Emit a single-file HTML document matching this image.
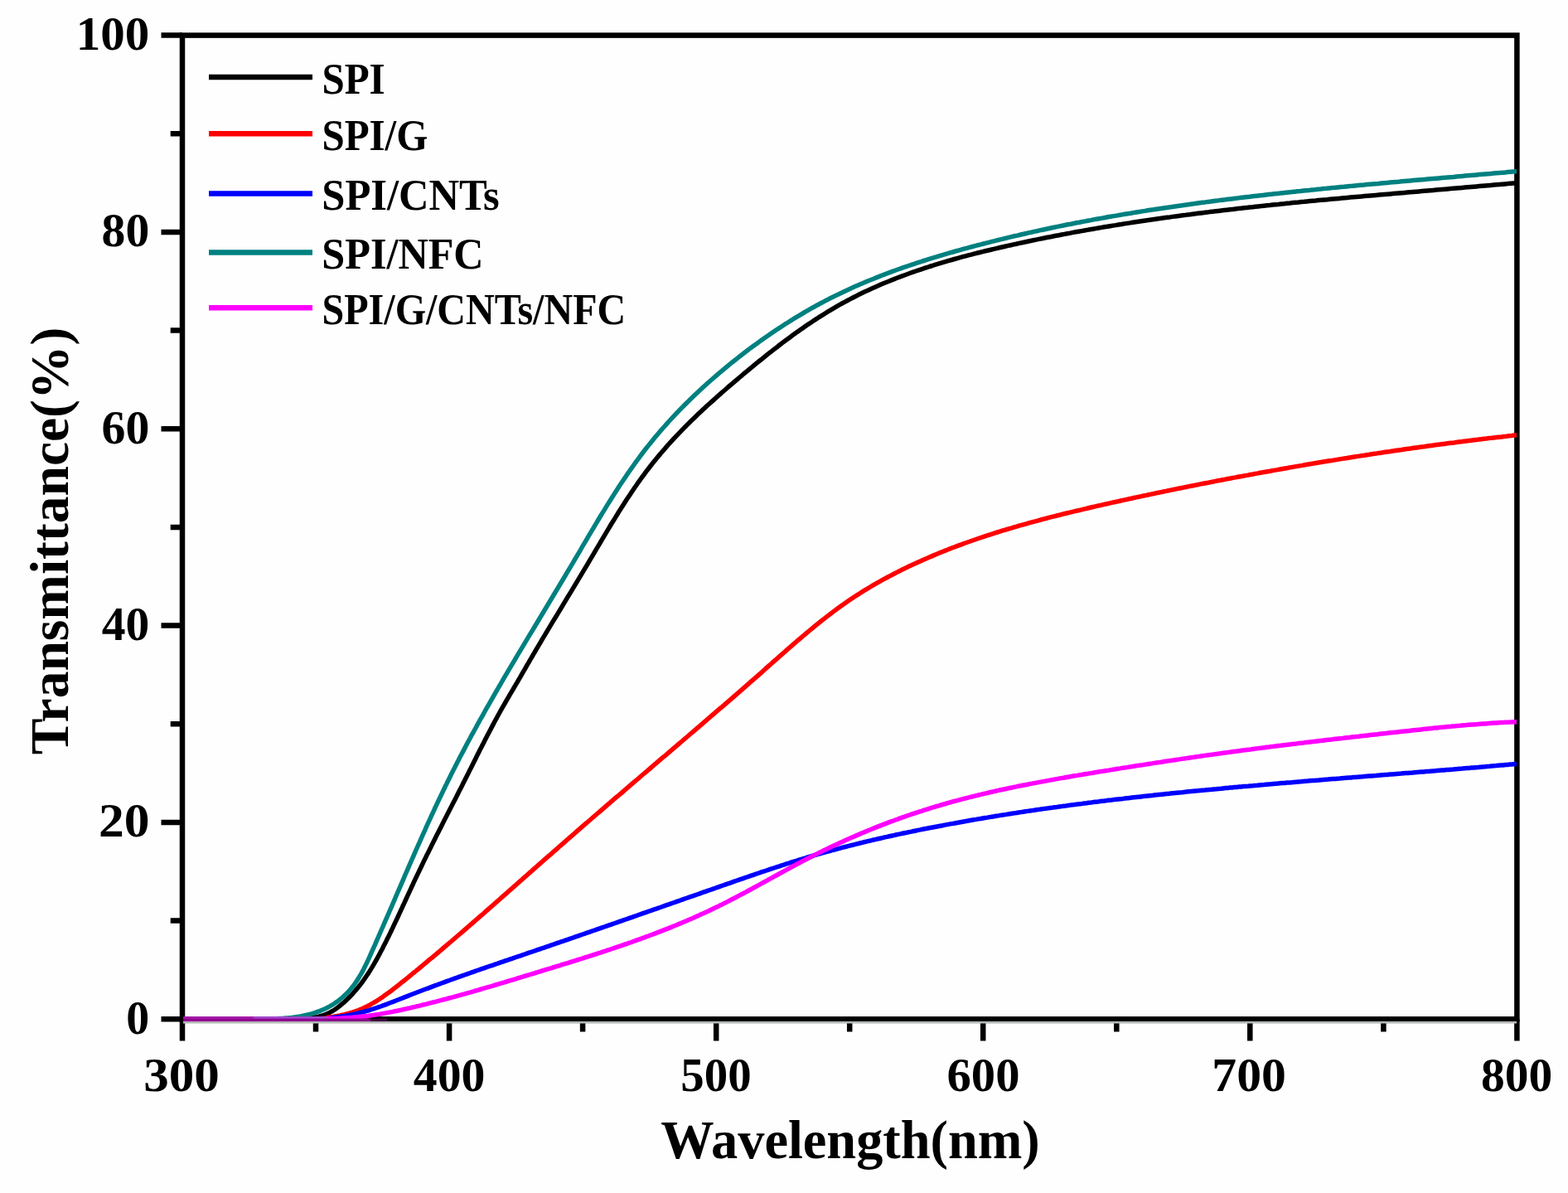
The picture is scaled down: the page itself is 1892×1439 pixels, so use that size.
<!DOCTYPE html><html><head><meta charset="utf-8"><title>Transmittance</title>
<style>html,body{margin:0;padding:0;background:#fefefe;overflow:hidden;}svg{display:block;}text{font-family:'Liberation Serif','Times New Roman',serif;font-weight:bold;fill:#000;}</style></head><body>
<svg width="1892" height="1439" viewBox="0 0 1892 1439">
<rect width="1892" height="1439" fill="#fefefe"/>
<path d="M194.5 1229.3 H220.0 M205.7 1110.6 H220.0 M194.5 992.0 H220.0 M205.7 873.3 H220.0 M194.5 754.6 H220.0 M205.7 635.9 H220.0 M194.5 517.3 H220.0 M205.7 398.6 H220.0 M194.5 279.9 H220.0 M205.7 161.3 H220.0 M194.5 42.6 H220.0 M220.0 1229.3 V1255.5 M381.0 1229.3 V1244.5 M542.1 1229.3 V1255.5 M703.1 1229.3 V1244.5 M864.2 1229.3 V1255.5 M1025.2 1229.3 V1244.5 M1186.2 1229.3 V1255.5 M1347.3 1229.3 V1244.5 M1508.3 1229.3 V1255.5 M1669.4 1229.3 V1244.5 M1830.4 1229.3 V1255.5" stroke="#000" stroke-width="6.5" fill="none"/>
<rect x="220.0" y="42.6" width="1610.4" height="1186.7" fill="none" stroke="#000" stroke-width="6.5"/>
<rect x="221" y="1231.9" width="1609" height="2.6" fill="#b4b8b4"/>
<path d="M222.0 1229.0L225.5 1229.0 229.0 1229.0 232.5 1229.0 236.0 1229.0 239.5 1229.0 243.0 1229.0 246.5 1229.0 249.9 1229.0 253.4 1229.0 256.8 1229.0 260.3 1228.9 263.7 1228.9 267.2 1228.9 270.6 1228.9 274.0 1228.9 277.5 1228.9 280.9 1228.9 284.4 1228.9 287.8 1228.9 291.3 1228.9 294.8 1228.9 298.2 1228.9 301.7 1228.9 305.2 1228.9 308.7 1228.9 312.2 1228.9 315.8 1228.9 319.3 1228.9 322.9 1228.9 326.4 1228.9 330.0 1228.8 333.6 1228.8 337.1 1228.8 340.7 1228.8 344.2 1228.8 347.8 1228.8 351.3 1228.8 354.8 1228.8 358.3 1228.8 361.8 1228.8 365.2 1228.8 368.7 1228.5 372.1 1228.2 375.4 1227.8 378.7 1227.3 382.0 1226.7 385.3 1226.0 388.4 1225.1 391.6 1224.1 394.7 1222.8 397.7 1221.4 400.7 1219.8 403.6 1218.0 406.5 1216.0 409.3 1213.9 412.0 1211.6 414.7 1209.4 417.3 1207.0 419.8 1204.6 422.3 1202.1 424.7 1199.6 427.0 1197.0 429.3 1194.4 431.5 1191.8 433.7 1189.1 435.8 1186.3 437.9 1183.5 439.9 1180.7 441.8 1177.8 443.8 1174.9 445.7 1172.0 447.5 1169.1 449.3 1166.1 451.1 1163.1 452.8 1160.1 454.6 1157.0 456.2 1154.0 457.9 1150.9 459.5 1147.8 461.2 1144.7 462.7 1141.6 464.3 1138.5 465.9 1135.4 467.4 1132.3 469.0 1129.2 470.5 1126.1 472.0 1123.0 473.5 1119.9 475.0 1116.7 476.4 1113.6 477.9 1110.5 479.4 1107.4 480.8 1104.3 482.3 1101.1 483.7 1098.0 485.2 1094.9 486.6 1091.7 488.1 1088.6 489.5 1085.5 490.9 1082.4 492.4 1079.2 493.8 1076.1 495.3 1072.9 496.7 1069.8 498.2 1066.7 499.6 1063.5 501.1 1060.4 502.6 1057.3 504.1 1054.1 505.6 1051.0 507.1 1047.8 508.6 1044.7 510.1 1041.6 511.6 1038.4 513.2 1035.3 514.7 1032.1 516.3 1029.0 517.8 1025.9 519.4 1022.7 520.9 1019.6 522.5 1016.5 524.1 1013.3 525.6 1010.2 527.2 1007.1 528.8 1003.9 530.4 1000.8 532.0 997.7 533.6 994.5 535.1 991.4 536.7 988.3 538.3 985.2 539.9 982.1 541.5 978.9 543.1 975.8 544.7 972.7 546.3 969.6 547.9 966.5 549.5 963.4 551.1 960.3 552.6 957.2 554.2 954.1 555.8 951.0 557.4 947.9 558.9 944.8 560.5 941.7 562.1 938.6 563.6 935.5 565.2 932.4 566.7 929.3 568.3 926.3 569.8 923.2 571.3 920.1 572.9 917.1 574.4 914.0 575.9 910.9 577.5 907.9 579.0 904.8 580.6 901.8 582.1 898.7 583.7 895.7 585.2 892.6 586.8 889.6 588.4 886.5 590.0 883.5 591.6 880.4 593.2 877.4 594.8 874.4 596.4 871.3 598.0 868.3 599.7 865.3 601.3 862.3 603.0 859.2 604.7 856.2 606.4 853.2 608.2 850.2 609.9 847.2 611.6 844.1 613.4 841.1 615.1 838.1 616.9 835.1 618.7 832.1 620.4 829.1 622.2 826.1 624.0 823.1 625.7 820.1 627.5 817.1 629.2 814.1 630.9 811.1 632.7 808.1 634.4 805.1 636.1 802.1 637.9 799.1 639.6 796.1 641.4 793.1 643.1 790.1 644.9 787.1 646.6 784.1 648.4 781.1 650.2 778.1 652.0 775.1 653.7 772.2 655.5 769.2 657.3 766.2 659.1 763.2 660.9 760.2 662.7 757.2 664.5 754.2 666.3 751.2 668.1 748.2 669.9 745.3 671.7 742.3 673.5 739.3 675.3 736.3 677.1 733.3 678.9 730.3 680.7 727.3 682.5 724.3 684.3 721.3 686.2 718.3 688.0 715.4 689.8 712.4 691.6 709.4 693.4 706.4 695.2 703.4 697.0 700.4 698.8 697.4 700.6 694.4 702.4 691.4 704.2 688.4 706.0 685.4 707.8 682.4 709.6 679.4 711.3 676.4 713.1 673.4 714.9 670.4 716.7 667.4 718.4 664.4 720.2 661.4 722.0 658.4 723.8 655.4 725.5 652.4 727.3 649.4 729.1 646.4 730.9 643.4 732.7 640.4 734.5 637.4 736.2 634.5 738.0 631.5 739.9 628.5 741.7 625.6 743.5 622.6 745.3 619.7 747.1 616.7 749.0 613.8 750.8 610.9 752.7 608.0 754.6 605.0 756.5 602.1 758.4 599.3 760.3 596.4 762.2 593.5 764.1 590.7 766.1 587.8 768.1 585.0 770.0 582.1 772.0 579.3 774.0 576.5 776.1 573.8 778.1 571.0 780.2 568.2 782.3 565.5 784.4 562.8 786.5 560.0 788.7 557.3 790.8 554.7 793.0 552.0 795.2 549.4 797.4 546.7 799.7 544.1 802.0 541.5 804.2 538.9 806.5 536.3 808.9 533.7 811.2 531.2 813.5 528.7 815.9 526.1 818.3 523.6 820.7 521.1 823.1 518.6 825.5 516.1 828.0 513.7 830.4 511.2 832.9 508.8 835.4 506.3 837.9 503.9 840.4 501.5 842.9 499.1 845.4 496.7 848.0 494.3 850.5 492.0 853.1 489.6 855.7 487.2 858.3 484.9 860.9 482.6 863.5 480.2 866.1 477.9 868.7 475.6 871.3 473.3 874.0 471.0 876.6 468.7 879.2 466.4 881.9 464.1 884.6 461.8 887.2 459.6 889.9 457.3 892.6 455.0 895.3 452.8 897.9 450.5 900.6 448.3 903.3 446.1 906.0 443.8 908.7 441.6 911.4 439.4 914.1 437.2 916.8 435.0 919.6 432.8 922.3 430.6 925.0 428.4 927.8 426.2 930.5 424.1 933.3 421.9 936.0 419.8 938.8 417.7 941.5 415.5 944.3 413.4 947.1 411.3 949.9 409.3 952.7 407.2 955.5 405.1 958.3 403.1 961.1 401.1 964.0 399.0 966.8 397.0 969.7 395.1 972.5 393.1 975.4 391.1 978.3 389.2 981.1 387.3 984.0 385.4 986.9 383.5 989.8 381.6 992.8 379.8 995.7 378.0 998.6 376.2 1001.6 374.4 1004.6 372.6 1007.5 370.9 1010.5 369.1 1013.5 367.4 1016.5 365.8 1019.6 364.1 1022.6 362.5 1025.7 360.9 1028.7 359.3 1031.8 357.7 1034.9 356.1 1038.0 354.6 1041.1 353.1 1044.2 351.6 1047.3 350.2 1050.4 348.7 1053.6 347.3 1056.7 345.9 1059.9 344.5 1063.1 343.1 1066.2 341.8 1069.4 340.5 1072.6 339.2 1075.8 337.9 1079.1 336.6 1082.3 335.3 1085.5 334.1 1088.8 332.9 1092.0 331.7 1095.3 330.5 1098.5 329.3 1101.8 328.1 1105.1 327.0 1108.4 325.9 1111.7 324.8 1115.0 323.7 1118.3 322.6 1121.6 321.5 1124.9 320.5 1128.2 319.4 1131.6 318.4 1134.9 317.4 1138.2 316.4 1141.6 315.4 1144.9 314.4 1148.3 313.5 1151.7 312.5 1155.0 311.6 1158.4 310.6 1161.8 309.7 1165.1 308.8 1168.5 307.9 1171.9 307.1 1175.3 306.2 1178.7 305.3 1182.1 304.5 1185.5 303.6 1188.9 302.8 1192.3 302.0 1195.7 301.2 1199.1 300.4 1202.5 299.6 1205.9 298.8 1209.3 298.0 1212.7 297.2 1216.1 296.4 1219.6 295.7 1223.0 294.9 1226.4 294.2 1229.8 293.4 1233.2 292.7 1236.6 292.0 1240.1 291.2 1243.5 290.5 1246.9 289.8 1250.3 289.1 1253.7 288.4 1257.2 287.7 1260.6 287.0 1264.0 286.3 1267.4 285.7 1270.8 285.0 1274.3 284.3 1277.7 283.7 1281.1 283.0 1284.5 282.4 1288.0 281.7 1291.4 281.1 1294.8 280.4 1298.2 279.8 1301.7 279.2 1305.1 278.6 1308.5 278.0 1312.0 277.4 1315.4 276.8 1318.8 276.2 1322.2 275.6 1325.7 275.0 1329.1 274.4 1332.5 273.8 1336.0 273.3 1339.4 272.7 1342.8 272.1 1346.3 271.6 1349.7 271.0 1353.1 270.5 1356.6 269.9 1360.0 269.4 1363.4 268.9 1366.9 268.3 1370.3 267.8 1373.7 267.3 1377.2 266.8 1380.6 266.3 1384.1 265.8 1387.5 265.3 1390.9 264.8 1394.4 264.3 1397.8 263.8 1401.3 263.3 1404.7 262.8 1408.1 262.3 1411.6 261.9 1415.0 261.4 1418.5 260.9 1421.9 260.5 1425.3 260.0 1428.8 259.6 1432.2 259.1 1435.7 258.7 1439.1 258.2 1442.6 257.8 1446.0 257.3 1449.5 256.9 1452.9 256.5 1456.4 256.1 1459.8 255.6 1463.2 255.2 1466.7 254.8 1470.1 254.4 1473.6 254.0 1477.0 253.6 1480.5 253.2 1483.9 252.8 1487.4 252.4 1490.8 252.0 1494.3 251.6 1497.7 251.2 1501.2 250.8 1504.6 250.4 1508.1 250.0 1511.5 249.7 1515.0 249.3 1518.4 248.9 1521.9 248.6 1525.3 248.2 1528.8 247.8 1532.2 247.5 1535.7 247.1 1539.2 246.7 1542.6 246.4 1546.1 246.0 1549.5 245.7 1553.0 245.3 1556.4 245.0 1559.9 244.6 1563.3 244.3 1566.8 244.0 1570.3 243.6 1573.7 243.3 1577.2 242.9 1580.6 242.6 1584.1 242.3 1587.5 242.0 1591.0 241.6 1594.5 241.3 1597.9 241.0 1601.4 240.7 1604.8 240.3 1608.3 240.0 1611.7 239.7 1615.2 239.4 1618.7 239.1 1622.1 238.7 1625.6 238.4 1629.0 238.1 1632.5 237.8 1636.0 237.5 1639.4 237.2 1642.9 236.9 1646.3 236.6 1649.8 236.3 1653.3 236.0 1656.7 235.7 1660.2 235.4 1663.7 235.1 1667.1 234.8 1670.6 234.5 1674.0 234.2 1677.5 233.9 1681.0 233.6 1684.4 233.3 1687.9 233.0 1691.4 232.7 1694.8 232.4 1698.3 232.1 1701.8 231.8 1705.2 231.5 1708.7 231.2 1712.1 230.9 1715.6 230.6 1719.1 230.3 1722.5 230.0 1726.0 229.7 1729.5 229.4 1732.9 229.1 1736.4 228.8 1739.9 228.5 1743.3 228.2 1746.8 227.9 1750.3 227.6 1753.7 227.3 1757.2 227.0 1760.7 226.7 1764.1 226.4 1767.6 226.1 1771.1 225.8 1774.5 225.5 1778.0 225.2 1781.5 224.9 1784.9 224.6 1788.4 224.3 1791.9 224.0 1795.3 223.7 1798.8 223.4 1802.3 223.1 1805.7 222.8 1809.2 222.5 1812.7 222.2 1816.1 221.9 1819.6 221.6 1823.1 221.2 1826.5 220.9 1830.0 220.6" stroke="#000000" stroke-width="5.5" fill="none" stroke-linejoin="round"/>
<path d="M222.0 1229.0L225.0 1229.0 227.9 1229.0 230.9 1229.0 233.8 1229.0 236.8 1229.0 239.8 1229.0 242.8 1229.0 245.8 1229.0 248.8 1229.0 251.8 1229.0 254.9 1229.0 257.9 1229.0 260.9 1229.0 264.0 1229.0 267.0 1228.9 270.1 1228.9 273.2 1228.9 276.2 1228.9 279.3 1228.9 282.4 1228.9 285.5 1228.9 288.6 1228.9 291.7 1228.9 294.8 1228.9 297.8 1228.9 300.9 1228.9 304.0 1228.9 307.1 1228.9 310.2 1228.9 313.3 1228.9 316.4 1228.9 319.5 1228.9 322.6 1228.9 325.7 1228.9 328.8 1228.9 331.9 1228.9 335.0 1228.9 338.1 1228.9 341.1 1228.9 344.2 1228.9 347.3 1228.9 350.4 1228.9 353.4 1228.8 356.5 1228.8 359.5 1228.8 362.6 1228.8 365.6 1228.8 368.6 1228.8 371.7 1228.8 374.7 1228.8 377.7 1228.8 380.7 1228.8 383.7 1228.8 386.7 1228.8 389.6 1228.8 392.6 1228.8 395.5 1227.2 398.5 1226.8 401.4 1226.4 404.3 1225.9 407.2 1225.4 410.1 1224.9 412.9 1224.3 415.8 1223.6 418.6 1222.9 421.4 1222.2 424.2 1221.3 427.0 1220.5 429.7 1219.5 432.5 1218.5 435.2 1217.4 437.9 1216.2 440.5 1215.0 443.2 1213.7 445.8 1212.3 448.4 1210.8 451.0 1209.4 453.6 1207.8 456.1 1206.2 458.7 1204.6 461.2 1202.9 463.7 1201.1 466.2 1199.3 468.7 1197.5 471.2 1195.7 473.7 1193.8 476.1 1191.9 478.6 1190.0 481.0 1188.1 483.4 1186.2 485.8 1184.2 488.3 1182.3 490.7 1180.3 493.1 1178.4 495.5 1176.4 497.9 1174.4 500.3 1172.5 502.7 1170.5 505.1 1168.6 507.4 1166.6 509.8 1164.6 512.2 1162.7 514.6 1160.7 516.9 1158.7 519.3 1156.7 521.7 1154.8 524.0 1152.8 526.4 1150.8 528.7 1148.8 531.1 1146.9 533.4 1144.9 535.7 1142.9 538.1 1140.9 540.4 1138.9 542.7 1137.0 545.0 1135.0 547.4 1133.0 549.7 1131.0 552.0 1129.0 554.3 1127.0 556.6 1125.1 558.9 1123.1 561.2 1121.1 563.5 1119.1 565.8 1117.1 568.1 1115.1 570.4 1113.1 572.7 1111.1 575.0 1109.1 577.3 1107.1 579.6 1105.1 581.9 1103.2 584.1 1101.2 586.4 1099.2 588.7 1097.2 591.0 1095.2 593.3 1093.2 595.5 1091.2 597.8 1089.2 600.1 1087.2 602.3 1085.2 604.6 1083.2 606.9 1081.2 609.2 1079.2 611.4 1077.2 613.7 1075.2 616.0 1073.2 618.2 1071.2 620.5 1069.2 622.7 1067.2 625.0 1065.2 627.3 1063.2 629.5 1061.2 631.8 1059.2 634.1 1057.2 636.3 1055.2 638.6 1053.2 640.8 1051.2 643.1 1049.2 645.4 1047.2 647.6 1045.2 649.9 1043.2 652.2 1041.2 654.4 1039.2 656.7 1037.2 659.0 1035.2 661.2 1033.2 663.5 1031.3 665.8 1029.3 668.0 1027.3 670.3 1025.3 672.6 1023.3 674.8 1021.3 677.1 1019.3 679.4 1017.3 681.7 1015.3 683.9 1013.3 686.2 1011.3 688.5 1009.3 690.8 1007.3 693.1 1005.4 695.4 1003.4 697.6 1001.4 699.9 999.4 702.2 997.4 704.5 995.4 706.8 993.4 709.1 991.5 711.4 989.5 713.7 987.5 716.0 985.5 718.3 983.5 720.6 981.5 722.9 979.6 725.2 977.6 727.5 975.6 729.8 973.6 732.1 971.6 734.4 969.6 736.7 967.7 739.0 965.7 741.3 963.7 743.6 961.7 745.9 959.8 748.3 957.8 750.6 955.8 752.9 953.8 755.2 951.8 757.5 949.9 759.8 947.9 762.1 945.9 764.4 943.9 766.8 941.9 769.1 940.0 771.4 938.0 773.7 936.0 776.0 934.0 778.3 932.1 780.7 930.1 783.0 928.1 785.3 926.1 787.6 924.1 789.9 922.2 792.3 920.2 794.6 918.2 796.9 916.2 799.2 914.2 801.5 912.3 803.9 910.3 806.2 908.3 808.5 906.3 810.8 904.4 813.1 902.4 815.5 900.4 817.8 898.4 820.1 896.4 822.4 894.5 824.7 892.5 827.0 890.5 829.4 888.5 831.7 886.5 834.0 884.5 836.3 882.6 838.6 880.6 840.9 878.6 843.3 876.6 845.6 874.6 847.9 872.6 850.2 870.6 852.5 868.7 854.8 866.7 857.1 864.7 859.4 862.7 861.8 860.7 864.1 858.7 866.4 856.7 868.7 854.7 871.0 852.8 873.3 850.8 875.6 848.8 877.9 846.8 880.2 844.8 882.5 842.8 884.8 840.8 887.1 838.8 889.4 836.8 891.7 834.8 894.0 832.8 896.3 830.8 898.6 828.8 900.9 826.8 903.2 824.8 905.4 822.8 907.7 820.8 910.0 818.8 912.3 816.8 914.6 814.8 916.9 812.8 919.2 810.8 921.4 808.8 923.7 806.7 926.0 804.7 928.3 802.7 930.5 800.7 932.8 798.7 935.1 796.7 937.3 794.7 939.6 792.7 941.9 790.7 944.2 788.7 946.4 786.7 948.7 784.7 951.0 782.7 953.3 780.7 955.6 778.7 957.9 776.7 960.1 774.7 962.4 772.7 964.7 770.8 967.0 768.8 969.3 766.8 971.7 764.9 974.0 762.9 976.3 761.0 978.6 759.1 981.0 757.1 983.3 755.2 985.6 753.3 988.0 751.4 990.4 749.5 992.7 747.7 995.1 745.8 997.5 743.9 999.9 742.1 1002.3 740.3 1004.7 738.4 1007.1 736.6 1009.6 734.8 1012.0 733.0 1014.4 731.3 1016.9 729.5 1019.4 727.8 1021.9 726.0 1024.4 724.3 1026.9 722.6 1029.4 720.9 1031.9 719.3 1034.5 717.6 1037.1 716.0 1039.6 714.3 1042.2 712.7 1044.8 711.1 1047.4 709.6 1050.0 708.0 1052.7 706.4 1055.3 704.9 1057.9 703.4 1060.6 701.9 1063.3 700.4 1065.9 698.9 1068.6 697.5 1071.3 696.0 1074.0 694.6 1076.7 693.2 1079.4 691.8 1082.2 690.4 1084.9 689.0 1087.6 687.6 1090.4 686.3 1093.1 684.9 1095.9 683.6 1098.7 682.3 1101.4 681.0 1104.2 679.7 1107.0 678.4 1109.8 677.2 1112.6 675.9 1115.4 674.7 1118.2 673.5 1121.0 672.3 1123.8 671.1 1126.6 669.9 1129.4 668.7 1132.2 667.5 1135.0 666.4 1137.8 665.3 1140.7 664.1 1143.5 663.0 1146.3 661.9 1149.1 660.8 1152.0 659.7 1154.8 658.7 1157.7 657.6 1160.5 656.6 1163.3 655.5 1166.2 654.5 1169.1 653.5 1171.9 652.5 1174.8 651.5 1177.6 650.5 1180.5 649.5 1183.4 648.5 1186.2 647.6 1189.1 646.6 1192.0 645.7 1194.8 644.8 1197.7 643.8 1200.6 642.9 1203.5 642.0 1206.4 641.1 1209.3 640.2 1212.2 639.3 1215.0 638.5 1217.9 637.6 1220.8 636.8 1223.7 635.9 1226.6 635.1 1229.6 634.2 1232.5 633.4 1235.4 632.6 1238.3 631.8 1241.2 630.9 1244.1 630.1 1247.0 629.3 1249.9 628.6 1252.9 627.8 1255.8 627.0 1258.7 626.2 1261.6 625.5 1264.6 624.7 1267.5 623.9 1270.4 623.2 1273.4 622.5 1276.3 621.7 1279.3 621.0 1282.2 620.2 1285.1 619.5 1288.1 618.8 1291.0 618.1 1294.0 617.4 1296.9 616.7 1299.9 616.0 1302.8 615.3 1305.8 614.6 1308.7 613.9 1311.7 613.2 1314.6 612.5 1317.6 611.8 1320.6 611.1 1323.5 610.4 1326.5 609.8 1329.4 609.1 1332.4 608.4 1335.4 607.8 1338.4 607.1 1341.3 606.4 1344.3 605.8 1347.3 605.1 1350.2 604.5 1353.2 603.8 1356.2 603.1 1359.2 602.5 1362.1 601.8 1365.1 601.2 1368.1 600.5 1371.1 599.9 1374.1 599.3 1377.0 598.6 1380.0 598.0 1383.0 597.4 1386.0 596.7 1389.0 596.1 1392.0 595.5 1394.9 594.8 1397.9 594.2 1400.9 593.6 1403.9 593.0 1406.9 592.4 1409.9 591.7 1412.9 591.1 1415.9 590.5 1418.9 589.9 1421.8 589.3 1424.8 588.7 1427.8 588.1 1430.8 587.5 1433.8 586.9 1436.8 586.3 1439.8 585.7 1442.8 585.1 1445.8 584.5 1448.8 583.9 1451.8 583.3 1454.8 582.7 1457.8 582.2 1460.8 581.6 1463.8 581.0 1466.8 580.4 1469.7 579.8 1472.7 579.3 1475.7 578.7 1478.7 578.1 1481.7 577.5 1484.7 577.0 1487.7 576.4 1490.7 575.9 1493.7 575.3 1496.7 574.7 1499.7 574.2 1502.7 573.6 1505.7 573.1 1508.7 572.5 1511.7 572.0 1514.7 571.4 1517.7 570.9 1520.6 570.3 1523.6 569.8 1526.6 569.2 1529.6 568.7 1532.6 568.2 1535.6 567.6 1538.6 567.1 1541.6 566.6 1544.6 566.0 1547.6 565.5 1550.6 565.0 1553.5 564.5 1556.5 563.9 1559.5 563.4 1562.5 562.9 1565.5 562.4 1568.5 561.9 1571.5 561.4 1574.5 560.8 1577.5 560.3 1580.5 559.8 1583.5 559.3 1586.4 558.8 1589.4 558.3 1592.4 557.8 1595.4 557.3 1598.4 556.8 1601.4 556.3 1604.4 555.8 1607.4 555.4 1610.4 554.9 1613.4 554.4 1616.4 553.9 1619.3 553.4 1622.3 552.9 1625.3 552.5 1628.3 552.0 1631.3 551.5 1634.3 551.0 1637.3 550.6 1640.3 550.1 1643.3 549.6 1646.3 549.2 1649.3 548.7 1652.3 548.3 1655.3 547.8 1658.3 547.3 1661.3 546.9 1664.3 546.4 1667.3 546.0 1670.2 545.5 1673.2 545.1 1676.2 544.7 1679.2 544.2 1682.2 543.8 1685.2 543.3 1688.2 542.9 1691.2 542.5 1694.2 542.0 1697.2 541.6 1700.2 541.2 1703.2 540.8 1706.2 540.3 1709.3 539.9 1712.3 539.5 1715.3 539.1 1718.3 538.7 1721.3 538.2 1724.3 537.8 1727.3 537.4 1730.3 537.0 1733.3 536.6 1736.3 536.2 1739.3 535.8 1742.3 535.4 1745.3 535.0 1748.4 534.6 1751.4 534.2 1754.4 533.9 1757.4 533.5 1760.4 533.1 1763.4 532.7 1766.4 532.3 1769.5 531.9 1772.5 531.6 1775.5 531.2 1778.5 530.8 1781.5 530.4 1784.6 530.1 1787.6 529.7 1790.6 529.3 1793.6 529.0 1796.7 528.6 1799.7 528.3 1802.7 527.9 1805.7 527.6 1808.8 527.2 1811.8 526.9 1814.8 526.5 1817.9 526.2 1820.9 525.8 1823.9 525.5 1827.0 525.1 1830.0 524.8" stroke="#ff0000" stroke-width="5.5" fill="none" stroke-linejoin="round"/>
<path d="M222.0 1229.0L224.8 1229.0 227.6 1229.0 230.4 1229.0 233.2 1229.0 236.1 1229.0 238.9 1229.0 241.7 1229.0 244.5 1229.0 247.3 1229.0 250.1 1229.0 252.9 1229.0 255.7 1229.0 258.5 1229.0 261.3 1229.0 264.0 1229.0 266.8 1228.9 269.6 1228.9 272.4 1228.9 275.2 1228.9 277.9 1228.9 280.7 1228.9 283.5 1228.9 286.2 1228.9 289.0 1228.9 291.8 1228.9 294.5 1228.9 297.3 1228.9 300.0 1228.9 302.8 1228.9 305.5 1228.9 308.3 1228.9 311.0 1228.9 313.7 1228.9 316.5 1228.9 319.2 1228.9 321.9 1228.9 324.7 1228.9 327.4 1228.9 330.1 1228.9 332.8 1228.9 335.6 1228.9 338.3 1228.9 341.0 1228.9 343.7 1228.9 346.4 1228.9 349.1 1228.9 351.8 1228.9 354.5 1228.9 357.2 1228.8 359.9 1228.8 362.6 1228.8 365.3 1228.8 368.0 1228.8 370.7 1228.8 373.4 1228.8 376.1 1228.8 378.8 1228.8 381.5 1228.8 384.2 1228.8 386.8 1228.8 389.5 1228.8 392.2 1228.8 394.9 1228.8 397.5 1228.8 400.2 1227.5 402.9 1227.2 405.6 1226.9 408.2 1226.6 410.9 1226.2 413.5 1225.8 416.2 1225.4 418.9 1224.9 421.5 1224.5 424.2 1223.9 426.8 1223.4 429.5 1222.8 432.1 1222.2 434.8 1221.5 437.4 1220.9 440.1 1220.1 442.7 1219.4 445.4 1218.6 448.0 1217.7 450.7 1216.9 453.3 1216.0 455.9 1215.1 458.6 1214.2 461.2 1213.2 463.8 1212.3 466.5 1211.3 469.1 1210.3 471.7 1209.3 474.4 1208.3 477.0 1207.3 479.6 1206.2 482.2 1205.2 484.9 1204.2 487.5 1203.1 490.1 1202.1 492.7 1201.1 495.4 1200.0 498.0 1199.0 500.6 1198.0 503.2 1197.0 505.8 1196.0 508.4 1195.0 511.0 1194.0 513.7 1193.0 516.3 1192.1 518.9 1191.1 521.5 1190.1 524.1 1189.1 526.7 1188.2 529.3 1187.2 531.9 1186.3 534.5 1185.3 537.1 1184.4 539.7 1183.4 542.3 1182.5 544.9 1181.5 547.5 1180.6 550.1 1179.7 552.7 1178.7 555.3 1177.8 557.9 1176.9 560.5 1176.0 563.1 1175.1 565.7 1174.2 568.3 1173.2 570.9 1172.3 573.5 1171.4 576.1 1170.5 578.7 1169.6 581.3 1168.7 583.9 1167.8 586.5 1166.9 589.1 1166.0 591.7 1165.1 594.3 1164.3 596.9 1163.4 599.5 1162.5 602.1 1161.6 604.7 1160.7 607.2 1159.8 609.8 1158.9 612.4 1158.1 615.0 1157.2 617.6 1156.3 620.2 1155.4 622.8 1154.5 625.4 1153.6 628.0 1152.8 630.6 1151.9 633.2 1151.0 635.7 1150.1 638.3 1149.2 640.9 1148.4 643.5 1147.5 646.1 1146.6 648.7 1145.7 651.3 1144.8 653.9 1143.9 656.5 1143.1 659.1 1142.2 661.6 1141.3 664.2 1140.4 666.8 1139.5 669.4 1138.6 672.0 1137.7 674.6 1136.8 677.2 1135.9 679.8 1135.1 682.4 1134.2 685.0 1133.3 687.6 1132.4 690.2 1131.5 692.8 1130.6 695.3 1129.7 697.9 1128.8 700.5 1127.9 703.1 1127.0 705.7 1126.1 708.3 1125.2 710.9 1124.3 713.5 1123.4 716.1 1122.5 718.7 1121.6 721.3 1120.7 723.9 1119.8 726.5 1118.9 729.1 1118.0 731.7 1117.1 734.3 1116.2 736.9 1115.3 739.5 1114.4 742.1 1113.5 744.7 1112.6 747.2 1111.7 749.8 1110.8 752.4 1109.9 755.0 1109.0 757.6 1108.1 760.2 1107.2 762.8 1106.3 765.4 1105.4 768.0 1104.5 770.6 1103.5 773.2 1102.6 775.8 1101.7 778.4 1100.8 781.0 1099.9 783.6 1099.0 786.2 1098.1 788.8 1097.2 791.4 1096.3 794.1 1095.4 796.7 1094.5 799.3 1093.5 801.9 1092.6 804.5 1091.7 807.1 1090.8 809.7 1089.9 812.3 1089.0 814.9 1088.1 817.5 1087.2 820.1 1086.3 822.7 1085.3 825.3 1084.4 827.9 1083.5 830.5 1082.6 833.1 1081.7 835.8 1080.8 838.4 1079.9 841.0 1079.0 843.6 1078.1 846.2 1077.1 848.8 1076.2 851.4 1075.3 854.0 1074.4 856.6 1073.5 859.3 1072.6 861.9 1071.7 864.5 1070.7 867.1 1069.8 869.7 1068.9 872.3 1068.0 874.9 1067.1 877.6 1066.2 880.2 1065.3 882.8 1064.4 885.4 1063.4 888.0 1062.5 890.7 1061.6 893.3 1060.7 895.9 1059.8 898.5 1058.9 901.1 1058.0 903.8 1057.1 906.4 1056.2 909.0 1055.3 911.6 1054.4 914.3 1053.5 916.9 1052.6 919.5 1051.7 922.1 1050.9 924.8 1050.0 927.4 1049.1 930.0 1048.2 932.6 1047.4 935.3 1046.5 937.9 1045.6 940.5 1044.8 943.2 1043.9 945.8 1043.1 948.4 1042.2 951.1 1041.4 953.7 1040.5 956.3 1039.7 959.0 1038.9 961.6 1038.1 964.2 1037.2 966.9 1036.4 969.5 1035.6 972.1 1034.8 974.8 1034.0 977.4 1033.2 980.1 1032.5 982.7 1031.7 985.3 1030.9 988.0 1030.2 990.6 1029.4 993.3 1028.7 995.9 1027.9 998.6 1027.2 1001.2 1026.5 1003.9 1025.7 1006.5 1025.0 1009.2 1024.3 1011.8 1023.6 1014.5 1022.9 1017.1 1022.2 1019.8 1021.5 1022.4 1020.8 1025.1 1020.1 1027.7 1019.5 1030.4 1018.8 1033.0 1018.1 1035.7 1017.5 1038.3 1016.8 1041.0 1016.2 1043.7 1015.5 1046.3 1014.9 1049.0 1014.3 1051.6 1013.6 1054.3 1013.0 1057.0 1012.4 1059.6 1011.8 1062.3 1011.2 1064.9 1010.6 1067.6 1009.9 1070.3 1009.4 1072.9 1008.8 1075.6 1008.2 1078.3 1007.6 1081.0 1007.0 1083.6 1006.4 1086.3 1005.9 1089.0 1005.3 1091.6 1004.7 1094.3 1004.2 1097.0 1003.6 1099.7 1003.1 1102.3 1002.5 1105.0 1002.0 1107.7 1001.4 1110.4 1000.9 1113.1 1000.3 1115.7 999.8 1118.4 999.3 1121.1 998.7 1123.8 998.2 1126.5 997.7 1129.2 997.2 1131.9 996.7 1134.5 996.2 1137.2 995.7 1139.9 995.1 1142.6 994.6 1145.3 994.1 1148.0 993.6 1150.7 993.2 1153.4 992.7 1156.1 992.2 1158.8 991.7 1161.5 991.2 1164.2 990.7 1166.9 990.3 1169.6 989.8 1172.3 989.3 1175.0 988.8 1177.7 988.4 1180.4 987.9 1183.1 987.5 1185.8 987.0 1188.5 986.5 1191.2 986.1 1193.9 985.6 1196.6 985.2 1199.3 984.8 1202.0 984.3 1204.8 983.9 1207.5 983.4 1210.2 983.0 1212.9 982.6 1215.6 982.1 1218.3 981.7 1221.0 981.3 1223.7 980.9 1226.5 980.5 1229.2 980.0 1231.9 979.6 1234.6 979.2 1237.3 978.8 1240.1 978.4 1242.8 978.0 1245.5 977.6 1248.2 977.2 1250.9 976.8 1253.7 976.4 1256.4 976.0 1259.1 975.6 1261.8 975.3 1264.6 974.9 1267.3 974.5 1270.0 974.1 1272.7 973.7 1275.5 973.4 1278.2 973.0 1280.9 972.6 1283.7 972.2 1286.4 971.9 1289.1 971.5 1291.8 971.1 1294.6 970.8 1297.3 970.4 1300.0 970.1 1302.8 969.7 1305.5 969.4 1308.2 969.0 1311.0 968.7 1313.7 968.3 1316.5 968.0 1319.2 967.6 1321.9 967.3 1324.7 967.0 1327.4 966.6 1330.1 966.3 1332.9 966.0 1335.6 965.6 1338.4 965.3 1341.1 965.0 1343.8 964.6 1346.6 964.3 1349.3 964.0 1352.1 963.7 1354.8 963.4 1357.6 963.0 1360.3 962.7 1363.0 962.4 1365.8 962.1 1368.5 961.8 1371.3 961.5 1374.0 961.2 1376.8 960.9 1379.5 960.6 1382.3 960.3 1385.0 960.0 1387.7 959.7 1390.5 959.4 1393.2 959.1 1396.0 958.8 1398.7 958.5 1401.5 958.2 1404.2 957.9 1407.0 957.6 1409.7 957.4 1412.5 957.1 1415.2 956.8 1418.0 956.5 1420.7 956.2 1423.5 955.9 1426.2 955.7 1429.0 955.4 1431.7 955.1 1434.5 954.8 1437.2 954.6 1440.0 954.3 1442.8 954.0 1445.5 953.8 1448.3 953.5 1451.0 953.2 1453.8 953.0 1456.5 952.7 1459.3 952.4 1462.0 952.2 1464.8 951.9 1467.5 951.7 1470.3 951.4 1473.0 951.2 1475.8 950.9 1478.6 950.6 1481.3 950.4 1484.1 950.1 1486.8 949.9 1489.6 949.6 1492.3 949.4 1495.1 949.1 1497.8 948.9 1500.6 948.6 1503.3 948.4 1506.1 948.2 1508.9 947.9 1511.6 947.7 1514.4 947.4 1517.1 947.2 1519.9 946.9 1522.6 946.7 1525.4 946.5 1528.2 946.2 1530.9 946.0 1533.7 945.8 1536.4 945.5 1539.2 945.3 1541.9 945.1 1544.7 944.8 1547.4 944.6 1550.2 944.4 1553.0 944.1 1555.7 943.9 1558.5 943.7 1561.2 943.4 1564.0 943.2 1566.7 943.0 1569.5 942.8 1572.2 942.5 1575.0 942.3 1577.8 942.1 1580.5 941.8 1583.3 941.6 1586.0 941.4 1588.8 941.2 1591.5 941.0 1594.3 940.7 1597.0 940.5 1599.8 940.3 1602.5 940.1 1605.3 939.8 1608.1 939.6 1610.8 939.4 1613.6 939.2 1616.3 939.0 1619.1 938.7 1621.8 938.5 1624.6 938.3 1627.3 938.1 1630.1 937.9 1632.8 937.6 1635.6 937.4 1638.3 937.2 1641.1 937.0 1643.8 936.8 1646.6 936.5 1649.3 936.3 1652.1 936.1 1654.8 935.9 1657.6 935.7 1660.3 935.5 1663.1 935.2 1665.8 935.0 1668.6 934.8 1671.3 934.6 1674.1 934.4 1676.8 934.1 1679.6 933.9 1682.3 933.7 1685.1 933.5 1687.8 933.3 1690.6 933.1 1693.3 932.8 1696.1 932.6 1698.8 932.4 1701.5 932.2 1704.3 932.0 1707.0 931.7 1709.8 931.5 1712.5 931.3 1715.3 931.1 1718.0 930.9 1720.7 930.6 1723.5 930.4 1726.2 930.2 1729.0 930.0 1731.7 929.8 1734.4 929.5 1737.2 929.3 1739.9 929.1 1742.7 928.9 1745.4 928.6 1748.1 928.4 1750.9 928.2 1753.6 928.0 1756.3 927.7 1759.1 927.5 1761.8 927.3 1764.5 927.1 1767.3 926.8 1770.0 926.6 1772.7 926.4 1775.5 926.1 1778.2 925.9 1780.9 925.7 1783.7 925.5 1786.4 925.2 1789.1 925.0 1791.9 924.8 1794.6 924.5 1797.3 924.3 1800.0 924.0 1802.8 923.8 1805.5 923.6 1808.2 923.3 1810.9 923.1 1813.7 922.9 1816.4 922.6 1819.1 922.4 1821.8 922.1 1824.5 921.9 1827.3 921.6 1830.0 921.4" stroke="#0000ff" stroke-width="5.5" fill="none" stroke-linejoin="round"/>
<path d="M222.0 1229.0L225.6 1229.0 229.2 1229.0 232.7 1229.0 236.2 1229.0 239.7 1229.0 243.2 1229.0 246.7 1229.0 250.1 1228.9 253.6 1228.9 257.0 1228.9 260.5 1228.9 263.9 1228.9 267.4 1228.9 270.8 1228.9 274.2 1228.9 277.7 1228.9 281.1 1228.9 284.6 1228.9 288.0 1228.9 291.5 1228.9 295.0 1228.9 298.5 1228.9 302.1 1228.9 305.6 1228.8 309.2 1228.8 312.7 1228.8 316.3 1228.8 319.9 1228.8 323.5 1228.8 327.1 1228.8 330.7 1228.9 334.2 1228.8 337.8 1228.6 341.4 1228.4 344.9 1228.1 348.4 1227.8 352.0 1227.4 355.5 1226.9 358.9 1226.4 362.4 1225.9 365.8 1225.2 369.2 1224.5 372.5 1223.7 375.8 1222.8 379.1 1221.8 382.4 1220.7 385.5 1219.6 388.7 1218.3 391.8 1216.9 394.8 1215.5 397.8 1213.9 400.8 1212.2 403.7 1210.3 406.5 1208.4 409.2 1206.3 411.9 1204.2 414.5 1201.9 417.0 1199.6 419.4 1197.1 421.8 1194.6 424.0 1192.0 426.2 1189.3 428.2 1186.5 430.2 1183.7 432.0 1180.8 433.8 1177.9 435.6 1174.9 437.3 1171.9 438.9 1168.8 440.4 1165.7 442.0 1162.6 443.5 1159.4 444.9 1156.3 446.4 1153.1 447.8 1149.9 449.2 1146.7 450.7 1143.5 452.1 1140.3 453.5 1137.1 454.9 1133.9 456.3 1130.7 457.7 1127.5 459.1 1124.2 460.5 1121.0 461.9 1117.8 463.3 1114.6 464.7 1111.4 466.1 1108.2 467.5 1105.0 468.9 1101.8 470.3 1098.5 471.7 1095.3 473.1 1092.1 474.5 1088.9 475.9 1085.7 477.2 1082.5 478.6 1079.2 480.0 1076.0 481.4 1072.8 482.8 1069.6 484.2 1066.4 485.6 1063.2 487.0 1059.9 488.3 1056.7 489.7 1053.5 491.1 1050.3 492.5 1047.1 493.9 1043.9 495.3 1040.7 496.7 1037.5 498.1 1034.3 499.5 1031.1 500.9 1027.9 502.3 1024.7 503.7 1021.5 505.1 1018.3 506.6 1015.1 508.0 1011.9 509.4 1008.7 510.8 1005.5 512.3 1002.3 513.7 999.1 515.1 995.9 516.6 992.7 518.0 989.6 519.5 986.4 520.9 983.2 522.4 980.1 523.9 976.9 525.3 973.7 526.8 970.6 528.3 967.4 529.8 964.3 531.3 961.1 532.8 958.0 534.3 954.8 535.8 951.7 537.3 948.5 538.9 945.4 540.4 942.3 541.9 939.2 543.5 936.0 545.0 932.9 546.6 929.8 548.2 926.7 549.8 923.6 551.3 920.5 552.9 917.4 554.5 914.3 556.1 911.2 557.8 908.1 559.4 905.1 561.0 902.0 562.6 898.9 564.3 895.8 565.9 892.8 567.6 889.7 569.2 886.6 570.9 883.6 572.6 880.5 574.3 877.5 575.9 874.4 577.6 871.4 579.3 868.3 581.0 865.3 582.7 862.3 584.4 859.2 586.1 856.2 587.8 853.2 589.6 850.1 591.3 847.1 593.0 844.1 594.7 841.1 596.5 838.0 598.2 835.0 600.0 832.0 601.7 829.0 603.5 826.0 605.2 823.0 607.0 819.9 608.7 816.9 610.5 813.9 612.3 810.9 614.0 807.9 615.8 804.9 617.6 801.9 619.4 798.9 621.2 795.9 622.9 792.9 624.7 789.9 626.5 786.9 628.3 783.9 630.1 780.9 631.9 777.9 633.7 774.9 635.5 771.9 637.3 768.9 639.1 765.9 640.9 762.9 642.7 760.0 644.5 757.0 646.3 754.0 648.1 751.0 649.9 748.0 651.7 745.0 653.5 742.0 655.3 739.0 657.1 736.0 658.9 733.0 660.7 730.0 662.5 727.0 664.3 724.0 666.1 721.0 667.9 718.0 669.7 715.0 671.5 712.0 673.3 709.0 675.1 706.0 676.9 703.0 678.7 700.0 680.5 697.0 682.3 694.0 684.1 690.9 685.9 687.9 687.7 684.9 689.5 681.9 691.3 678.9 693.0 675.9 694.8 672.8 696.6 669.8 698.4 666.8 700.2 663.8 701.9 660.7 703.7 657.7 705.5 654.7 707.3 651.7 709.0 648.6 710.8 645.6 712.6 642.6 714.4 639.6 716.2 636.6 718.0 633.6 719.8 630.6 721.6 627.5 723.4 624.5 725.2 621.5 727.0 618.6 728.9 615.6 730.7 612.6 732.5 609.6 734.4 606.6 736.2 603.7 738.1 600.7 740.0 597.8 741.8 594.8 743.7 591.9 745.6 589.0 747.5 586.1 749.4 583.1 751.4 580.2 753.3 577.4 755.3 574.5 757.2 571.6 759.2 568.7 761.2 565.9 763.2 563.1 765.2 560.2 767.2 557.4 769.3 554.6 771.3 551.8 773.4 549.0 775.5 546.3 777.6 543.5 779.7 540.8 781.9 538.1 784.0 535.4 786.2 532.7 788.4 530.0 790.6 527.3 792.8 524.7 795.1 522.0 797.3 519.4 799.6 516.8 801.9 514.2 804.2 511.6 806.5 509.0 808.8 506.5 811.2 503.9 813.6 501.4 815.9 498.9 818.3 496.4 820.7 493.9 823.2 491.4 825.6 489.0 828.1 486.5 830.5 484.1 833.0 481.6 835.5 479.2 838.0 476.8 840.5 474.4 843.1 472.0 845.6 469.7 848.2 467.3 850.8 465.0 853.4 462.6 856.0 460.3 858.6 458.0 861.2 455.7 863.9 453.4 866.5 451.1 869.2 448.9 871.9 446.6 874.6 444.4 877.3 442.1 880.0 439.9 882.7 437.7 885.5 435.5 888.2 433.3 891.0 431.1 893.7 429.0 896.5 426.8 899.3 424.7 902.1 422.5 904.9 420.4 907.8 418.3 910.6 416.2 913.5 414.2 916.3 412.1 919.2 410.0 922.1 408.0 925.0 406.0 927.9 404.0 930.8 402.0 933.7 400.0 936.6 398.0 939.6 396.1 942.5 394.2 945.5 392.2 948.4 390.3 951.4 388.5 954.4 386.6 957.4 384.7 960.4 382.9 963.4 381.1 966.4 379.3 969.5 377.5 972.5 375.7 975.6 374.0 978.6 372.2 981.7 370.5 984.7 368.8 987.8 367.2 990.9 365.5 994.0 363.9 997.1 362.2 1000.2 360.6 1003.3 359.1 1006.5 357.5 1009.6 355.9 1012.7 354.4 1015.9 352.9 1019.0 351.4 1022.2 349.9 1025.4 348.5 1028.5 347.1 1031.7 345.6 1034.9 344.2 1038.1 342.8 1041.3 341.5 1044.5 340.1 1047.7 338.8 1050.9 337.5 1054.2 336.2 1057.4 334.9 1060.6 333.6 1063.9 332.3 1067.1 331.1 1070.4 329.8 1073.6 328.6 1076.9 327.4 1080.1 326.2 1083.4 325.0 1086.7 323.9 1090.0 322.7 1093.3 321.6 1096.6 320.5 1099.8 319.4 1103.1 318.3 1106.4 317.2 1109.8 316.1 1113.1 315.0 1116.4 314.0 1119.7 312.9 1123.0 311.9 1126.3 310.9 1129.7 309.9 1133.0 308.8 1136.3 307.9 1139.7 306.9 1143.0 305.9 1146.4 304.9 1149.7 304.0 1153.1 303.0 1156.4 302.1 1159.8 301.2 1163.1 300.2 1166.5 299.3 1169.8 298.4 1173.2 297.5 1176.6 296.6 1179.9 295.7 1183.3 294.9 1186.7 294.0 1190.1 293.1 1193.4 292.3 1196.8 291.4 1200.2 290.6 1203.6 289.7 1207.0 288.9 1210.3 288.1 1213.7 287.3 1217.1 286.4 1220.5 285.6 1223.9 284.8 1227.3 284.1 1230.7 283.3 1234.1 282.5 1237.5 281.7 1240.9 280.9 1244.3 280.2 1247.7 279.4 1251.1 278.7 1254.5 277.9 1257.9 277.2 1261.3 276.5 1264.7 275.8 1268.1 275.0 1271.6 274.3 1275.0 273.6 1278.4 272.9 1281.8 272.2 1285.2 271.5 1288.6 270.8 1292.1 270.2 1295.5 269.5 1298.9 268.8 1302.4 268.2 1305.8 267.5 1309.2 266.9 1312.6 266.2 1316.1 265.6 1319.5 264.9 1322.9 264.3 1326.4 263.7 1329.8 263.1 1333.3 262.5 1336.7 261.8 1340.1 261.2 1343.6 260.6 1347.0 260.1 1350.5 259.5 1353.9 258.9 1357.4 258.3 1360.8 257.7 1364.3 257.2 1367.7 256.6 1371.2 256.0 1374.6 255.5 1378.1 254.9 1381.5 254.4 1385.0 253.8 1388.4 253.3 1391.9 252.8 1395.4 252.2 1398.8 251.7 1402.3 251.2 1405.7 250.7 1409.2 250.2 1412.7 249.7 1416.1 249.2 1419.6 248.7 1423.1 248.2 1426.5 247.7 1430.0 247.2 1433.5 246.7 1436.9 246.2 1440.4 245.8 1443.9 245.3 1447.3 244.8 1450.8 244.3 1454.3 243.9 1457.8 243.4 1461.2 243.0 1464.7 242.5 1468.2 242.1 1471.7 241.6 1475.1 241.2 1478.6 240.8 1482.1 240.3 1485.6 239.9 1489.1 239.5 1492.5 239.1 1496.0 238.6 1499.5 238.2 1503.0 237.8 1506.5 237.4 1509.9 237.0 1513.4 236.6 1516.9 236.2 1520.4 235.8 1523.9 235.4 1527.4 235.0 1530.8 234.6 1534.3 234.2 1537.8 233.8 1541.3 233.4 1544.8 233.1 1548.3 232.7 1551.7 232.3 1555.2 231.9 1558.7 231.6 1562.2 231.2 1565.7 230.8 1569.2 230.5 1572.7 230.1 1576.1 229.7 1579.6 229.4 1583.1 229.0 1586.6 228.7 1590.1 228.3 1593.6 228.0 1597.1 227.6 1600.6 227.3 1604.0 226.9 1607.5 226.6 1611.0 226.3 1614.5 225.9 1618.0 225.6 1621.5 225.3 1625.0 224.9 1628.5 224.6 1631.9 224.3 1635.4 223.9 1638.9 223.6 1642.4 223.3 1645.9 223.0 1649.4 222.6 1652.9 222.3 1656.3 222.0 1659.8 221.7 1663.3 221.4 1666.8 221.0 1670.3 220.7 1673.8 220.4 1677.3 220.1 1680.7 219.8 1684.2 219.5 1687.7 219.2 1691.2 218.8 1694.7 218.5 1698.2 218.2 1701.6 217.9 1705.1 217.6 1708.6 217.3 1712.1 217.0 1715.6 216.7 1719.0 216.4 1722.5 216.1 1726.0 215.8 1729.5 215.5 1732.9 215.2 1736.4 214.9 1739.9 214.6 1743.4 214.3 1746.8 214.0 1750.3 213.7 1753.8 213.4 1757.3 213.0 1760.7 212.7 1764.2 212.4 1767.7 212.1 1771.1 211.8 1774.6 211.5 1778.1 211.2 1781.5 210.9 1785.0 210.6 1788.5 210.3 1791.9 210.0 1795.4 209.7 1798.9 209.4 1802.3 209.1 1805.8 208.8 1809.3 208.5 1812.7 208.2 1816.2 207.9 1819.6 207.5 1823.1 207.2 1826.5 206.9 1830.0 206.6" stroke="#008080" stroke-width="5.5" fill="none" stroke-linejoin="round"/>
<path d="M222.0 1229.0L224.8 1229.0 227.6 1229.0 230.4 1229.0 233.2 1229.0 236.0 1229.0 238.8 1229.0 241.6 1229.0 244.4 1229.0 247.1 1228.9 249.9 1228.9 252.7 1228.9 255.5 1228.9 258.3 1228.9 261.1 1228.9 263.9 1228.9 266.7 1228.9 269.5 1228.9 272.3 1228.9 275.0 1228.9 277.8 1228.9 280.6 1228.9 283.4 1228.9 286.2 1228.9 289.0 1228.9 291.8 1228.9 294.5 1228.8 297.3 1228.8 300.1 1228.8 302.9 1228.8 305.7 1228.8 308.4 1228.8 311.2 1228.8 314.0 1228.8 316.8 1228.8 319.5 1228.8 322.3 1228.8 325.1 1228.8 327.9 1228.8 330.6 1228.8 333.4 1228.8 336.2 1228.8 339.0 1228.8 341.7 1228.7 344.5 1228.7 347.3 1228.7 350.0 1228.7 352.8 1228.7 355.6 1228.7 358.3 1228.7 361.1 1228.7 363.9 1228.7 366.6 1228.7 369.4 1228.7 372.1 1228.7 374.9 1228.7 377.7 1228.7 380.4 1228.7 383.2 1228.7 385.9 1228.7 388.7 1228.6 391.4 1228.6 394.2 1228.6 397.0 1228.6 399.7 1228.6 402.5 1228.6 405.2 1228.6 408.0 1228.6 410.7 1228.3 413.5 1228.1 416.2 1228.0 419.0 1227.8 421.7 1227.6 424.4 1227.4 427.2 1227.1 429.9 1226.9 432.7 1226.6 435.4 1226.3 438.2 1226.0 440.9 1225.7 443.6 1225.4 446.4 1225.0 449.1 1224.6 451.9 1224.2 454.6 1223.8 457.3 1223.4 460.1 1222.9 462.8 1222.4 465.5 1221.9 468.2 1221.4 471.0 1220.9 473.7 1220.4 476.4 1219.8 479.2 1219.3 481.9 1218.7 484.6 1218.1 487.3 1217.5 490.1 1216.9 492.8 1216.3 495.5 1215.6 498.2 1215.0 500.9 1214.4 503.7 1213.7 506.4 1213.1 509.1 1212.4 511.8 1211.7 514.5 1211.1 517.2 1210.4 519.9 1209.7 522.7 1209.0 525.4 1208.3 528.1 1207.6 530.8 1206.9 533.5 1206.2 536.2 1205.5 538.9 1204.8 541.6 1204.0 544.3 1203.3 547.0 1202.6 549.7 1201.8 552.4 1201.1 555.1 1200.4 557.8 1199.6 560.5 1198.9 563.2 1198.1 565.9 1197.3 568.6 1196.6 571.3 1195.8 574.0 1195.0 576.6 1194.3 579.3 1193.5 582.0 1192.7 584.7 1191.9 587.4 1191.1 590.1 1190.3 592.8 1189.6 595.4 1188.8 598.1 1188.0 600.8 1187.2 603.5 1186.4 606.1 1185.6 608.8 1184.8 611.5 1184.0 614.2 1183.2 616.8 1182.4 619.5 1181.6 622.2 1180.8 624.8 1179.9 627.5 1179.1 630.2 1178.3 632.8 1177.5 635.5 1176.7 638.2 1175.9 640.8 1175.1 643.5 1174.3 646.1 1173.5 648.8 1172.7 651.5 1171.8 654.1 1171.0 656.8 1170.2 659.4 1169.4 662.1 1168.6 664.7 1167.8 667.4 1167.0 670.0 1166.2 672.7 1165.4 675.3 1164.6 677.9 1163.7 680.6 1162.9 683.2 1162.1 685.9 1161.3 688.5 1160.5 691.1 1159.7 693.8 1158.8 696.4 1158.0 699.0 1157.2 701.7 1156.4 704.3 1155.5 706.9 1154.7 709.5 1153.9 712.2 1153.0 714.8 1152.2 717.4 1151.3 720.0 1150.5 722.6 1149.6 725.3 1148.8 727.9 1147.9 730.5 1147.1 733.1 1146.2 735.7 1145.4 738.3 1144.5 740.9 1143.6 743.5 1142.7 746.1 1141.8 748.7 1141.0 751.3 1140.1 753.9 1139.2 756.5 1138.3 759.1 1137.4 761.7 1136.5 764.3 1135.5 766.9 1134.6 769.5 1133.7 772.0 1132.8 774.6 1131.8 777.2 1130.9 779.8 1129.9 782.4 1129.0 784.9 1128.0 787.5 1127.1 790.1 1126.1 792.6 1125.1 795.2 1124.1 797.8 1123.1 800.3 1122.1 802.9 1121.1 805.5 1120.1 808.0 1119.1 810.6 1118.1 813.1 1117.0 815.7 1116.0 818.2 1114.9 820.8 1113.9 823.3 1112.8 825.9 1111.7 828.4 1110.7 830.9 1109.6 833.5 1108.5 836.0 1107.4 838.5 1106.2 841.1 1105.1 843.6 1104.0 846.1 1102.8 848.7 1101.7 851.2 1100.5 853.7 1099.4 856.2 1098.2 858.7 1097.0 861.2 1095.8 863.7 1094.6 866.3 1093.4 868.8 1092.1 871.3 1090.9 873.8 1089.6 876.3 1088.4 878.8 1087.1 881.3 1085.8 883.7 1084.5 886.2 1083.3 888.7 1082.0 891.2 1080.6 893.7 1079.3 896.2 1078.0 898.7 1076.7 901.2 1075.3 903.6 1074.0 906.1 1072.7 908.6 1071.3 911.1 1070.0 913.6 1068.6 916.0 1067.3 918.5 1065.9 921.0 1064.5 923.5 1063.2 926.0 1061.8 928.4 1060.4 930.9 1059.1 933.4 1057.7 935.9 1056.3 938.4 1055.0 940.8 1053.6 943.3 1052.3 945.8 1050.9 948.3 1049.6 950.8 1048.2 953.3 1046.9 955.7 1045.5 958.2 1044.2 960.7 1042.8 963.2 1041.5 965.7 1040.2 968.2 1038.9 970.7 1037.6 973.2 1036.3 975.7 1035.0 978.2 1033.7 980.7 1032.4 983.3 1031.1 985.8 1029.9 988.3 1028.6 990.8 1027.4 993.3 1026.1 995.9 1024.9 998.4 1023.7 1000.9 1022.5 1003.4 1021.3 1006.0 1020.1 1008.5 1018.9 1011.1 1017.7 1013.6 1016.5 1016.1 1015.4 1018.7 1014.2 1021.2 1013.1 1023.8 1011.9 1026.3 1010.8 1028.9 1009.7 1031.5 1008.6 1034.0 1007.5 1036.6 1006.4 1039.1 1005.3 1041.7 1004.2 1044.3 1003.1 1046.9 1002.1 1049.4 1001.0 1052.0 1000.0 1054.6 998.9 1057.2 997.9 1059.7 996.9 1062.3 995.9 1064.9 994.9 1067.5 993.9 1070.1 992.9 1072.7 991.9 1075.3 990.9 1077.9 990.0 1080.5 989.0 1083.1 988.1 1085.7 987.1 1088.3 986.2 1090.9 985.3 1093.5 984.4 1096.1 983.5 1098.7 982.6 1101.3 981.7 1104.0 980.8 1106.6 980.0 1109.2 979.1 1111.8 978.3 1114.5 977.4 1117.1 976.6 1119.7 975.8 1122.3 974.9 1125.0 974.1 1127.6 973.3 1130.2 972.5 1132.9 971.8 1135.5 971.0 1138.2 970.2 1140.8 969.5 1143.5 968.7 1146.1 968.0 1148.7 967.2 1151.4 966.5 1154.0 965.8 1156.7 965.1 1159.4 964.4 1162.0 963.7 1164.7 963.0 1167.3 962.3 1170.0 961.6 1172.7 961.0 1175.3 960.3 1178.0 959.6 1180.7 959.0 1183.3 958.4 1186.0 957.7 1188.7 957.1 1191.3 956.5 1194.0 955.8 1196.7 955.2 1199.4 954.6 1202.1 954.0 1204.7 953.4 1207.4 952.8 1210.1 952.3 1212.8 951.7 1215.5 951.1 1218.2 950.5 1220.9 950.0 1223.6 949.4 1226.3 948.9 1228.9 948.3 1231.6 947.8 1234.3 947.2 1237.0 946.7 1239.7 946.2 1242.4 945.6 1245.1 945.1 1247.9 944.6 1250.6 944.1 1253.3 943.6 1256.0 943.1 1258.7 942.6 1261.4 942.1 1264.1 941.6 1266.8 941.1 1269.5 940.6 1272.2 940.1 1275.0 939.6 1277.7 939.1 1280.4 938.6 1283.1 938.2 1285.8 937.7 1288.6 937.2 1291.3 936.8 1294.0 936.3 1296.7 935.8 1299.5 935.4 1302.2 934.9 1304.9 934.5 1307.7 934.0 1310.4 933.5 1313.1 933.1 1315.9 932.6 1318.6 932.2 1321.3 931.7 1324.1 931.3 1326.8 930.8 1329.5 930.4 1332.3 930.0 1335.0 929.5 1337.8 929.1 1340.5 928.6 1343.3 928.2 1346.0 927.8 1348.7 927.3 1351.5 926.9 1354.2 926.4 1357.0 926.0 1359.7 925.6 1362.5 925.1 1365.2 924.7 1368.0 924.3 1370.7 923.8 1373.5 923.4 1376.2 923.0 1379.0 922.6 1381.7 922.1 1384.5 921.7 1387.3 921.3 1390.0 920.9 1392.8 920.4 1395.5 920.0 1398.3 919.6 1401.1 919.2 1403.8 918.7 1406.6 918.3 1409.3 917.9 1412.1 917.5 1414.9 917.1 1417.6 916.7 1420.4 916.3 1423.2 915.9 1425.9 915.4 1428.7 915.0 1431.5 914.6 1434.2 914.2 1437.0 913.8 1439.8 913.4 1442.5 913.0 1445.3 912.6 1448.1 912.2 1450.8 911.8 1453.6 911.4 1456.4 911.0 1459.2 910.6 1461.9 910.3 1464.7 909.9 1467.5 909.5 1470.2 909.1 1473.0 908.7 1475.8 908.3 1478.6 907.9 1481.3 907.6 1484.1 907.2 1486.9 906.8 1489.7 906.4 1492.4 906.1 1495.2 905.7 1498.0 905.3 1500.8 904.9 1503.6 904.6 1506.3 904.2 1509.1 903.9 1511.9 903.5 1514.7 903.1 1517.4 902.8 1520.2 902.4 1523.0 902.1 1525.8 901.7 1528.6 901.3 1531.3 901.0 1534.1 900.6 1536.9 900.3 1539.7 899.9 1542.5 899.6 1545.2 899.3 1548.0 898.9 1550.8 898.6 1553.6 898.2 1556.4 897.9 1559.1 897.6 1561.9 897.2 1564.7 896.9 1567.5 896.5 1570.3 896.2 1573.0 895.9 1575.8 895.5 1578.6 895.2 1581.4 894.9 1584.2 894.6 1586.9 894.2 1589.7 893.9 1592.5 893.6 1595.3 893.2 1598.1 892.9 1600.8 892.6 1603.6 892.3 1606.4 892.0 1609.2 891.6 1612.0 891.3 1614.7 891.0 1617.5 890.7 1620.3 890.4 1623.1 890.0 1625.9 889.7 1628.6 889.4 1631.4 889.1 1634.2 888.8 1637.0 888.5 1639.7 888.2 1642.5 887.8 1645.3 887.5 1648.1 887.2 1650.8 886.9 1653.6 886.6 1656.4 886.3 1659.2 886.0 1661.9 885.7 1664.7 885.3 1667.5 885.0 1670.3 884.7 1673.0 884.4 1675.8 884.1 1678.6 883.8 1681.3 883.5 1684.1 883.2 1686.9 882.9 1689.7 882.6 1692.4 882.3 1695.2 882.0 1698.0 881.7 1700.7 881.4 1703.5 881.1 1706.3 880.8 1709.0 880.5 1711.8 880.2 1714.6 879.9 1717.3 879.6 1720.1 879.3 1722.8 879.0 1725.6 878.7 1728.4 878.4 1731.1 878.1 1733.9 877.9 1736.7 877.6 1739.4 877.3 1742.2 877.1 1744.9 876.8 1747.7 876.5 1750.4 876.3 1753.2 876.0 1755.9 875.8 1758.7 875.5 1761.5 875.3 1764.2 875.0 1767.0 874.8 1769.7 874.6 1772.5 874.3 1775.2 874.1 1778.0 873.9 1780.7 873.7 1783.4 873.5 1786.2 873.2 1788.9 873.0 1791.7 872.9 1794.4 872.7 1797.2 872.5 1799.9 872.3 1802.6 872.1 1805.4 872.0 1808.1 871.8 1810.9 871.6 1813.6 871.5 1816.3 871.3 1819.1 871.2 1821.8 871.1 1824.5 870.9 1827.2 870.8 1830.0 870.7" stroke="#ff00ff" stroke-width="5.5" fill="none" stroke-linejoin="round"/>
<rect x="221" y="1226.2" width="174" height="2.6" fill="#a020a0"/>
<rect x="306" y="1226.2" width="89" height="2.6" fill="#a050d0"/>
<rect x="221" y="1228.6" width="226" height="3.3" fill="#900090"/>
<rect x="447" y="1228.6" width="20" height="3.3" fill="#400040"/>
<text transform="translate(152.3 1246.5) scale(0.964 1)" font-size="58.0">0</text>
<text transform="translate(118.9 1009.2) scale(1.061 1)" font-size="58.0">20</text>
<text transform="translate(122.7 771.9) scale(0.993 1)" font-size="58.0">40</text>
<text transform="translate(122.5 534.5) scale(0.996 1)" font-size="58.0">60</text>
<text transform="translate(122.6 297.2) scale(0.995 1)" font-size="58.0">80</text>
<text transform="translate(91.8 59.8) scale(1.018 1)" font-size="58.0">100</text>
<text transform="translate(173.2 1316.3) scale(1.053 1)" font-size="58.0">300</text>
<text transform="translate(498.8 1316.3) scale(0.996 1)" font-size="58.0">400</text>
<text transform="translate(821.3 1316.3) scale(0.981 1)" font-size="58.0">500</text>
<text transform="translate(1142.5 1316.3) scale(1.012 1)" font-size="58.0">600</text>
<text transform="translate(1462.3 1316.3) scale(1.030 1)" font-size="58.0">700</text>
<text transform="translate(1787.1 1316.3) scale(0.990 1)" font-size="58.0">800</text>
<text transform="translate(1026 1396.6) scale(0.99 1)" text-anchor="middle" font-size="65">Wavelength(nm)</text>
<text transform="translate(81.5 652.5) rotate(-90) scale(1.008 1)" text-anchor="middle" font-size="65">Transmittance(%)</text>
<path d="M252 93.0 H377" stroke="#000000" stroke-width="6.5"/>
<text transform="translate(388.4 112.5) scale(0.925 1)" font-size="53.0">SPI</text>
<path d="M252 161.2 H377" stroke="#ff0000" stroke-width="6.5"/>
<text transform="translate(388.4 180.7) scale(0.924 1)" font-size="53.0">SPI/G</text>
<path d="M252 233.4 H377" stroke="#0000ff" stroke-width="6.5"/>
<text transform="translate(388.3 252.9) scale(0.954 1)" font-size="53.0">SPI/CNTs</text>
<path d="M252 304.6 H377" stroke="#008080" stroke-width="6.5"/>
<text transform="translate(388.3 324.1) scale(0.948 1)" font-size="53.0">SPI/NFC</text>
<path d="M252 371.3 H377" stroke="#ff00ff" stroke-width="6.5"/>
<text transform="translate(388.5 390.8) scale(0.907 1)" font-size="53.0">SPI/G/CNTs/NFC</text>
</svg></body></html>
